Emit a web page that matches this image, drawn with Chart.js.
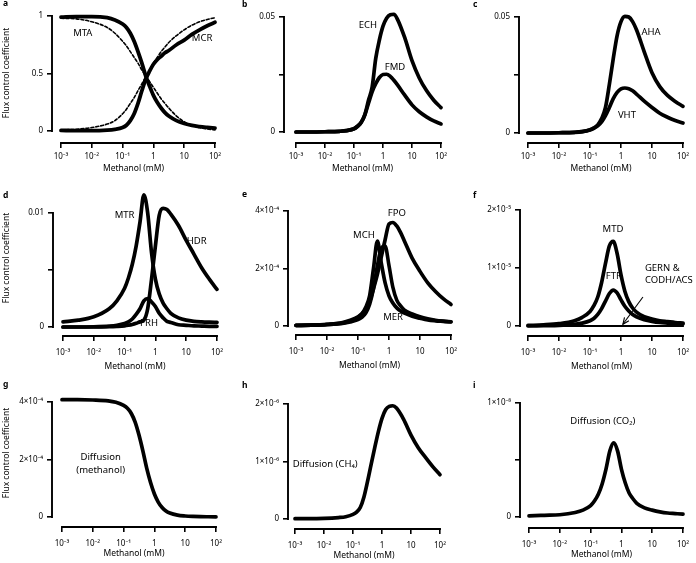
<!DOCTYPE html>
<html><head><meta charset="utf-8">
<script src="https://cdn.jsdelivr.net/npm/chart.js@4"></script>
<style>
html,body{margin:0;padding:0;background:#fff;}
#wrap{position:relative;width:696px;height:563px;overflow:hidden;background:#fff;}
#wrap canvas{position:absolute;}
</style></head><body><div id="wrap"></div>
<script>
// ---------- categories ----------
const methanolMM = [0.001,0.00316,0.01,0.0316,0.0562,0.1,0.133,0.178,0.237,0.316,0.422,0.562,0.75,1,1.33,1.78,2.37,3.16,5.62,10,17.8,31.6,56.2,100];
const xTickValues = [0.001,0.01,0.1,1,10,100];
const xTickLabels = ['10⁻³','10⁻²','10⁻¹','1','10','10²'];

// ---------- a ----------
const mtaSolid  = [0.99,0.995,0.995,0.985,0.965,0.93,0.90,0.85,0.78,0.69,0.59,0.48,0.39,0.31,0.25,0.20,0.16,0.13,0.09,0.065,0.048,0.038,0.031,0.025];
const mcrSolid  = [0.005,0.003,0.003,0.008,0.015,0.03,0.05,0.09,0.15,0.24,0.35,0.45,0.52,0.58,0.62,0.65,0.68,0.70,0.75,0.79,0.84,0.88,0.915,0.945];
const mtaDashed = [0.98,0.975,0.95,0.90,0.85,0.78,0.74,0.69,0.64,0.59,0.53,0.48,0.43,0.38,0.33,0.28,0.24,0.20,0.13,0.08,0.05,0.03,0.018,0.01];
const mcrDashed = [0.01,0.015,0.03,0.06,0.09,0.15,0.19,0.24,0.29,0.35,0.41,0.47,0.53,0.59,0.64,0.69,0.73,0.77,0.83,0.88,0.92,0.95,0.97,0.985];
const aTicks = [0,0.5,1]; const aTickLabels = ['0','0.5','1'];
// ---------- b ----------
const echFCC = [0,0,0.0001,0.0003,0.0006,0.0014,0.0025,0.0042,0.0075,0.0138,0.0195,0.032,0.040,0.046,0.0495,0.051,0.0512,0.049,0.041,0.031,0.0235,0.018,0.0138,0.0106];
const fmdFCC = [0,0,0.0001,0.0003,0.0006,0.0014,0.0025,0.0042,0.0075,0.0125,0.0175,0.021,0.0237,0.0250,0.0251,0.0242,0.0225,0.0205,0.0160,0.0118,0.0088,0.0066,0.0048,0.0035];
const bTicks = [0,0.025,0.05]; const bTickLabels = ['0','','0.05'];
// ---------- c ----------
const ahaFCC = [0,0,0.0001,0.0003,0.0006,0.0014,0.0022,0.0035,0.0062,0.011,0.021,0.032,0.042,0.048,0.0503,0.050,0.048,0.0445,0.035,0.026,0.020,0.0162,0.0136,0.0115];
const vhtFCC = [0,0,0.0001,0.0003,0.0006,0.0013,0.002,0.0031,0.0048,0.0075,0.0110,0.0148,0.0175,0.0190,0.0194,0.0191,0.0182,0.0168,0.0137,0.0110,0.0085,0.0068,0.0054,0.0043];
const cTicks = [0,0.025,0.05]; const cTickLabels = ['0','','0.05'];
// ---------- d ----------
const mtrFCC = [0.00045,0.0006,0.0009,0.0016,0.0023,0.0034,0.0043,0.0055,0.0071,0.0092,0.0116,0.0100,0.0065,0.0042,0.0029,0.0021,0.0016,0.0012,0.0008,0.0006,0.0005,0.00045,0.00042,0.0004];
const hdrFCC = [0,0,0,0.00002,0.00005,0.0001,0.00015,0.00022,0.00032,0.00045,0.0006,0.0016,0.0042,0.0071,0.0098,0.0104,0.0103,0.0099,0.0089,0.0076,0.0064,0.0052,0.0042,0.0033];
const frhFCC = [0,0,0.00002,0.00008,0.00015,0.0003,0.00045,0.0007,0.0011,0.0016,0.0023,0.0025,0.0022,0.0018,0.0012,0.0008,0.0005,0.0004,0.0002,0.00015,0.0001,0.00008,0.00006,0.00005];
const dTicks = [0,0.005,0.01]; const dTickLabels = ['0','','0.01'];
// ---------- e ----------
const fpoFCC = [0.02e-4,0.03e-4,0.06e-4,0.12e-4,0.2e-4,0.32e-4,0.42e-4,0.58e-4,0.85e-4,1.3e-4,1.8e-4,2.4e-4,3.0e-4,3.55e-4,3.6e-4,3.48e-4,3.25e-4,2.95e-4,2.35e-4,1.9e-4,1.5e-4,1.2e-4,0.95e-4,0.75e-4];
const mchFCC = [0.02e-4,0.03e-4,0.05e-4,0.1e-4,0.17e-4,0.3e-4,0.42e-4,0.65e-4,1.05e-4,2.0e-4,2.95e-4,2.2e-4,1.5e-4,1.05e-4,0.8e-4,0.63e-4,0.52e-4,0.45e-4,0.34e-4,0.27e-4,0.21e-4,0.18e-4,0.16e-4,0.14e-4];
const merFCC = [0.02e-4,0.03e-4,0.05e-4,0.09e-4,0.14e-4,0.22e-4,0.3e-4,0.45e-4,0.75e-4,1.3e-4,2.1e-4,2.7e-4,2.78e-4,2.1e-4,1.35e-4,0.9e-4,0.7e-4,0.55e-4,0.42e-4,0.32e-4,0.25e-4,0.2e-4,0.17e-4,0.15e-4];
const eTicks = [0,2e-4,4e-4]; const eTickLabels = ['0','2×10⁻⁴','4×10⁻⁴'];
// ---------- f ----------
const mtdFCC = [0.01e-5,0.02e-5,0.04e-5,0.09e-5,0.15e-5,0.25e-5,0.35e-5,0.5e-5,0.75e-5,1.08e-5,1.38e-5,1.46e-5,1.25e-5,0.88e-5,0.6e-5,0.42e-5,0.31e-5,0.24e-5,0.16e-5,0.12e-5,0.09e-5,0.075e-5,0.06e-5,0.05e-5];
const ftrFCC = [0,0.005e-5,0.01e-5,0.03e-5,0.05e-5,0.09e-5,0.13e-5,0.2e-5,0.3e-5,0.43e-5,0.56e-5,0.62e-5,0.57e-5,0.45e-5,0.34e-5,0.26e-5,0.2e-5,0.16e-5,0.11e-5,0.08e-5,0.06e-5,0.05e-5,0.042e-5,0.035e-5];
const gernFCC = [0,0,0,0,0,0,0,0,0,0,0,0,0,0,0,0,0,0,0,0,0,0,0,0];
const codhFCC = [0,0,0,0,0,0,0,0,0,0,0,0,0,0,0,0,0,0,0,0,0,0,0,0];
const fTicks = [0,1e-5,2e-5]; const fTickLabels = ['0','1×10⁻⁵','2×10⁻⁵'];
// ---------- g ----------
const diffMethanol = [4.08e-4,4.08e-4,4.07e-4,4.04e-4,3.99e-4,3.88e-4,3.78e-4,3.6e-4,3.3e-4,2.85e-4,2.3e-4,1.7e-4,1.2e-4,0.8e-4,0.52e-4,0.33e-4,0.21e-4,0.14e-4,0.065e-4,0.035e-4,0.02e-4,0.012e-4,0.008e-4,0.005e-4];
const gTicks = [0,2e-4,4e-4]; const gTickLabels = ['0','2×10⁻⁴','4×10⁻⁴'];
// ---------- h ----------
const diffCH4 = [0.005e-6,0.005e-6,0.01e-6,0.025e-6,0.04e-6,0.08e-6,0.12e-6,0.2e-6,0.38e-6,0.65e-6,0.95e-6,1.24e-6,1.52e-6,1.75e-6,1.9e-6,1.96e-6,1.97e-6,1.93e-6,1.73e-6,1.46e-6,1.24e-6,1.07e-6,0.91e-6,0.77e-6];
const hTicks = [0,1e-6,2e-6]; const hTickLabels = ['0','1×10⁻⁶','2×10⁻⁶'];
// ---------- i ----------
const diffCO2 = [0.01e-8,0.015e-8,0.02e-8,0.04e-8,0.06e-8,0.1e-8,0.14e-8,0.2e-8,0.29e-8,0.42e-8,0.58e-8,0.65e-8,0.58e-8,0.42e-8,0.3e-8,0.21e-8,0.16e-8,0.12e-8,0.08e-8,0.06e-8,0.045e-8,0.035e-8,0.03e-8,0.025e-8];
const iTicks = [0,0.5e-8,1e-8]; const iTickLabels = ['0','','1×10⁻⁸'];

const FONT = "'Noto Sans', 'DejaVu Sans', sans-serif";
const THICK = 3.7;

const panels = [
 {letter:'a', lp:[3,4], ytitle:[7,73], box:{axL:52,top:16,zero:131,bottom:143,x3:61,x2:215,tickPad:4,titleOff:26},
  ticks:aTicks, tickLabels:aTickLabels,
  series:[{d:mtaDashed,w:1.6,dash:[3,2]},{d:mcrDashed,w:1.6,dash:[3,2]},{d:mtaSolid,w:3.8},{d:mcrSolid,w:3.8}],
  notes:[{x:0.0051,y:0.85,t:'MTA'},{x:38,y:0.81,t:'MCR'}]},
 {letter:'b', lp:[242,5], box:{axL:284,top:17,zero:132,bottom:143,x3:296,x2:441,tickPad:4,titleOff:26},
  ticks:bTicks, tickLabels:bTickLabels,
  series:[{d:echFCC,w:THICK},{d:fmdFCC,w:THICK}],
  notes:[{x:0.30,y:0.0465,t:'ECH'},{x:2.6,y:0.0283,t:'FMD'}]},
 {letter:'c', lp:[473,5], box:{axL:519,top:17,zero:133,bottom:143,x3:528,x2:683,tickPad:4,titleOff:26},
  ticks:cTicks, tickLabels:cTickLabels,
  series:[{d:ahaFCC,w:THICK},{d:vhtFCC,w:THICK}],
  notes:[{x:9.3,y:0.0435,t:'AHA'},{x:1.55,y:0.0078,t:'VHT'}]},
 {letter:'d', lp:[3,196], ytitle:[7,258], box:{axL:53,top:213,zero:327,bottom:336,x3:63,x2:217,tickPad:7,titleOff:31},
  ticks:dTicks, tickLabels:dTickLabels,
  series:[{d:mtrFCC,w:THICK},{d:hdrFCC,w:THICK},{d:frhFCC,w:THICK}],
  notes:[{x:0.10,y:0.0098,t:'MTR'},{x:22,y:0.0075,t:'HDR'},{x:0.62,y:0.00035,t:'FRH'}]},
 {letter:'e', lp:[242,195], box:{axL:288,top:211,zero:326,bottom:335,x3:296,x2:451,tickPad:7,titleOff:31},
  ticks:eTicks, tickLabels:eTickLabels,
  series:[{d:fpoFCC,w:THICK},{d:mchFCC,w:THICK},{d:merFCC,w:3.6},{d:merFCC,w:1.1,color:'#fff'}],
  notes:[{x:1.8,y:3.93e-4,t:'FPO'},{x:0.155,y:3.17e-4,t:'MCH'},{x:1.35,y:0.31e-4,t:'MER'}]},
 {letter:'f', lp:[473,196], box:{axL:520,top:210,zero:326,bottom:336,x3:528,x2:683,tickPad:7,titleOff:31},
  ticks:fTicks, tickLabels:fTickLabels,
  series:[{d:mtdFCC,w:THICK},{d:ftrFCC,w:THICK},{d:gernFCC,w:1.8},{d:codhFCC,w:1.8}],
  notes:[{x:0.55,y:1.66e-5,t:'MTD'},{x:0.59,y:0.85e-5,t:'FTR'},{x:5.9,y:1.0e-5,t:'GERN &',align:'left'},{x:5.9,y:0.79e-5,t:'CODH/ACS',align:'left'}],
  arrow:{from:[5.1,0.5e-5],to:[1.15,0.03e-5]}},
 {letter:'g', lp:[3,385], ytitle:[7,453], box:{axL:52,top:402,zero:517,bottom:527,x3:62,x2:216,tickPad:7,titleOff:27},
  ticks:gTicks, tickLabels:gTickLabels,
  series:[{d:diffMethanol,w:THICK}],
  notes:[{x:0.018,y:2.09e-4,t:'Diffusion'},{x:0.018,y:1.64e-4,t:'(methanol)'}]},
 {letter:'h', lp:[242,386], box:{axL:288,top:404,zero:519,bottom:529,x3:295,x2:440,tickPad:7,titleOff:27},
  ticks:hTicks, tickLabels:hTickLabels,
  series:[{d:diffCH4,w:THICK}],
  notes:[{x:0.011,y:0.96e-6,t:'Diffusion (CH₄)'}]},
 {letter:'i', lp:[473,386], box:{axL:520,top:403,zero:517,bottom:528,x3:529,x2:683,tickPad:7,titleOff:27},
  ticks:iTicks, tickLabels:iTickLabels,
  series:[{d:diffCO2,w:THICK}],
  notes:[{x:0.25,y:0.84e-8,t:'Diffusion (CO₂)'}]}
];

const deco = {
  id:'deco',
  beforeDatasetsDraw(chart, args, o) {
    const {ctx, chartArea, scales:{x, y}} = chart;
    ctx.save();
    ctx.strokeStyle = '#000'; ctx.lineWidth = 1.9;
    ctx.beginPath();
    ctx.moveTo(chartArea.left, y.getPixelForValue(o.yMax) - 0.95);
    ctx.lineTo(chartArea.left, y.getPixelForValue(0) + 0.95);
    ctx.moveTo(x.getPixelForValue(0.001) - 0.95, chartArea.bottom);
    ctx.lineTo(x.getPixelForValue(100) + 0.95, chartArea.bottom);
    ctx.stroke();
    ctx.restore();
  },
  afterDraw(chart, args, o) {
    const {ctx, scales:{x, y}} = chart;
    const p = o.panel;
    ctx.save();
    ctx.fillStyle = '#000';
    ctx.textBaseline = 'middle';
    ctx.font = '9.5px ' + FONT;
    (p.notes || []).forEach(n => {
      ctx.textAlign = n.align || 'center';
      ctx.fillText(n.t, x.getPixelForValue(n.x), y.getPixelForValue(n.y));
    });
    if (p.arrow) {
      const x1 = x.getPixelForValue(p.arrow.from[0]), y1 = y.getPixelForValue(p.arrow.from[1]);
      const x2 = x.getPixelForValue(p.arrow.to[0]), y2 = y.getPixelForValue(p.arrow.to[1]);
      ctx.strokeStyle = '#000'; ctx.lineWidth = 1.1;
      ctx.beginPath(); ctx.moveTo(x1, y1); ctx.lineTo(x2, y2); ctx.stroke();
      const a = Math.atan2(y2 - y1, x2 - x1), L = 7;
      ctx.beginPath();
      ctx.moveTo(x2 - L*Math.cos(a - 0.4), y2 - L*Math.sin(a - 0.4));
      ctx.lineTo(x2, y2);
      ctx.lineTo(x2 - L*Math.cos(a + 0.4), y2 - L*Math.sin(a + 0.4));
      ctx.stroke();
    }
    ctx.font = 'bold 8.5px ' + FONT;
    ctx.textAlign = 'left';
    ctx.fillText(p.letter, p.lp[0] - o.L, p.lp[1] - o.T);
    if (p.ytitle) {
      ctx.font = '8.5px ' + FONT;
      ctx.translate(p.ytitle[0] - o.L, p.ytitle[1] - o.T);
      ctx.rotate(-Math.PI/2);
      ctx.textAlign = 'center';
      ctx.fillText('Flux control coefficient', 0, 0);
    }
    ctx.restore();
  }
};

const wrap = document.getElementById('wrap');
const PAD_TOP = 30, PAD_RIGHT = 16, Y_W = 52;

panels.forEach(p => {
  const b = p.box;
  const xH = b.titleOff + 5;
  const L = b.axL - Y_W, T = b.top - PAD_TOP;
  const W = b.x2 + PAD_RIGHT - L, H = b.bottom + xH - T;
  const decade = (b.x2 - b.x3) / 5;
  const xMin = Math.pow(10, -3 - (b.x3 - b.axL) / decade);
  const yMax = p.ticks[2];
  const yMin = -yMax * (b.bottom - b.zero) / (b.zero - b.top);
  const cv = document.createElement('canvas');
  cv.width = W; cv.height = H;
  cv.style.left = L + 'px'; cv.style.top = T + 'px';
  cv.style.width = W + 'px'; cv.style.height = H + 'px';
  wrap.appendChild(cv);
  const datasets = p.series.map(s => ({
    data: s.d.map((v, i) => ({x: methanolMM[i], y: v})),
    borderColor: s.color || '#000',
    borderWidth: s.w,
    borderDash: s.dash || [],
    pointRadius: 0,
    fill: false,
    cubicInterpolationMode: 'monotone',
    clip: false,
    borderCapStyle: 'round',
    borderJoinStyle: 'round'
  }));
  new Chart(cv, {
    type: 'line',
    data: {datasets},
    options: {
      responsive: false, animation: false, devicePixelRatio: 1,
      layout: {padding: {left: 0, top: PAD_TOP, right: PAD_RIGHT, bottom: 0}},
      plugins: {legend: {display: false}, tooltip: {enabled: false},
                deco: {panel: p, L, T, yMax}},
      scales: {
        x: {
          type: 'logarithmic', min: xMin, max: 100,
          afterFit: s => { s.height = xH; },
          afterBuildTicks: s => { s.ticks = xTickValues.map(v => ({value: v})); },
          ticks: {callback: (v, i) => xTickLabels[i], color: '#000', font: {family: FONT, size: 8},
                  padding: b.tickPad, maxRotation: 0, minRotation: 0, autoSkip: false},
          grid: {display: true, drawOnChartArea: false, drawTicks: true, tickLength: 5, color: '#000', lineWidth: 1.6},
          border: {display: false},
          title: {display: true, text: 'Methanol (mM)', color: '#000', font: {family: FONT, size: 8.5}, padding: 0}
        },
        y: {
          type: 'linear', min: yMin, max: yMax,
          afterFit: s => { s.width = Y_W; },
          afterBuildTicks: s => { s.ticks = p.ticks.map(v => ({value: v})); },
          ticks: {callback: (v, i) => p.tickLabels[i], color: '#000', font: {family: FONT, size: 8},
                  padding: 4, autoSkip: false},
          grid: {display: true, drawOnChartArea: false, drawTicks: true, tickLength: 5, color: '#000', lineWidth: 1.6},
          border: {display: false}
        }
      }
    },
    plugins: [deco]
  });
});
</script></body></html>
